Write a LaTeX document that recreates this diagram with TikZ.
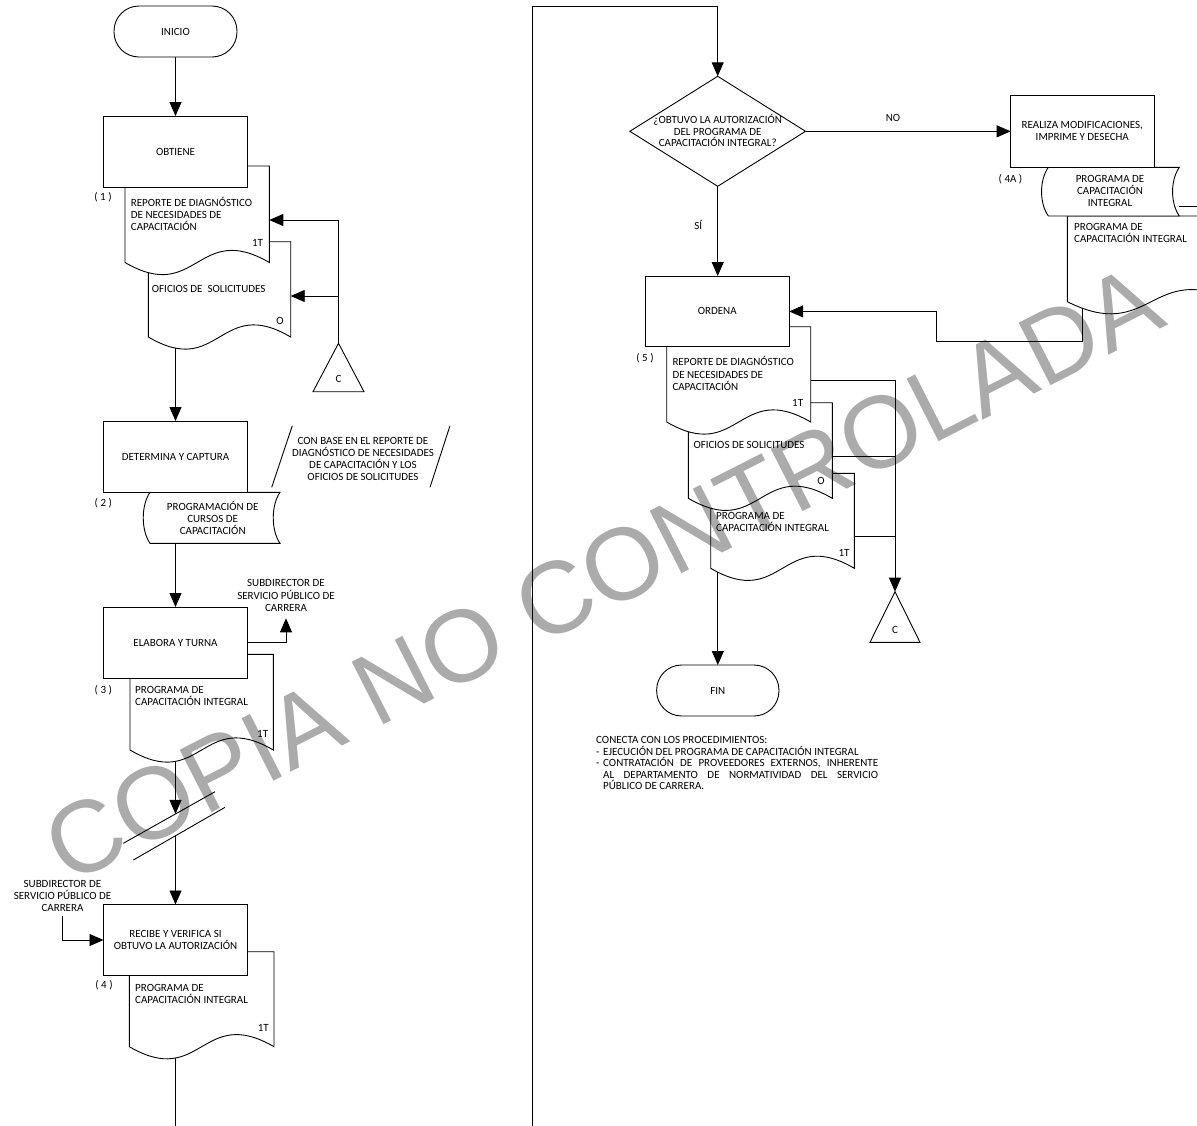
\documentclass[tikz,border=0pt]{standalone}
\usepackage{fontspec}
\setmainfont{Carlito}
\newfontfamily\stampfont{Liberation Sans}
\usetikzlibrary{arrows.meta,shapes.geometric,calc}
\pgfdeclarelayer{paper}
\pgfdeclarelayer{links}
\pgfdeclarelayer{stamp}
\pgfsetlayers{paper,links,main,stamp}

\tikzset{
  frame/.style={rectangle, draw=none, inner sep=0pt, outer sep=0pt},
  outline/.style={draw=black, fill=white, line width=0.9pt},
  procbox/.style={frame, outline, minimum width=144pt, minimum height=71pt,
    font=\fontsize{11}{11.8}\selectfont, align=center},
  terminal/.style={frame, outline, rounded corners=25pt, minimum width=123pt,
    minimum height=51pt, font=\fontsize{11}{12.4}\selectfont},
  link/.style={draw=black, line width=0.9pt},
  arr/.style={link, -{Triangle[length=14pt,width=12pt]}},
  lbl/.style={font=\fontsize{11}{12.2}\selectfont, inner sep=0pt, align=center},
  doclbl/.style={lbl, align=left, anchor=west},
}

% document symbol: flat top, wavy bottom (name, left, top, right, bottom)
\newcommand\DocShape[5]{%
  \node[frame, minimum width={(#4)-(#2)}, minimum height={(#5)-(#3)}]
    (#1) at ({((#2)+(#4))/2},{((#3)+(#5))/2}) {};
  \path[outline] (#1.north west) -- (#1.north east) -- (#1.south east)
    .. controls ([yshift=42pt]#1.south) and ([yshift=-42pt]#1.south) .. (#1.south west) -- cycle;}
% stored-data symbol: curved left and right sides
\newcommand\StoredShape[5]{%
  \node[frame, minimum width={(#4)-(#2)}, minimum height={(#5)-(#3)}]
    (#1) at ({((#2)+(#4))/2},{((#3)+(#5))/2}) {};
  \path[outline] (#1.north west) -- (#1.north east)
    .. controls +(-9,13) and +(-9,-13) .. (#1.south east) -- (#1.south west)
    .. controls +(-9,-13) and +(-9,13) .. (#1.north west) -- cycle;}
% off-page connector triangle (name, centre x, top, bottom, half width)
\newcommand\ConnTri[5]{%
  \node[frame, minimum width={2*(#5)}, minimum height={(#4)-(#3)}]
    (#1) at (#2,{((#3)+(#4))/2}) {};
  \path[outline] (#1.north) -- (#1.south east) -- (#1.south west) -- cycle;}

\begin{document}
\begin{tikzpicture}[x=1pt,y=-1pt]
\path[use as bounding box] (0,0) rectangle (1197,1125);
\clip (0,0) rectangle (1197,1125);
\begin{pgfonlayer}{paper}
  \fill[white] (0,0) rectangle (1197,1125);
\end{pgfonlayer}

% ---------------- left column ----------------
\node[terminal] (inicio) at (175.5,31.5) {INICIO};
\DocShape{doc2}{148.3}{241.7}{290.7}{337}
\DocShape{doc1}{125}{166}{269.3}{262.5}
\node[procbox] (obtiene) at (175.5,151.5) {OBTIENE};
\ConnTri{c1}{338.5}{343.3}{391.7}{25.5}

\StoredShape{sd2}{150}{492.3}{280}{543.3}
\node[procbox] (determina) at (175.5,456.5) {DETERMINA Y CAPTURA};

\DocShape{doc3}{130}{654.3}{273.3}{750}
\node[procbox] (elabora) at (175.5,642.5) {ELABORA Y TURNA};

\coordinate (s1a) at (123.3,843.3);
\coordinate (s1b) at (215,791.7);
\coordinate (s2a) at (133.3,860);
\coordinate (s2b) at (225,807.3);
\coordinate (brk1) at (175.5,813.9);
\coordinate (brk2) at (175.5,835.8);
\draw[link] (s1a) -- (s1b);
\draw[link] (s2a) -- (s2b);

\DocShape{doc4}{129.3}{951.7}{274}{1046.7}
\node[procbox] (recibe) at (175.5,940) {RECIBE Y VERIFICA SI\\OBTUVO LA AUTORIZACIÓN};

% ---------------- right column ----------------
\node[frame, outline, diamond, minimum width=175.7pt, minimum height=110pt] (dmd) at (717.7,131.3) {};
\DocShape{doc4a}{1067.3}{216}{1235}{301.7}
\StoredShape{sd4a}{1048.3}{167.3}{1179.3}{216}
\node[procbox, minimum width=143.3pt, minimum height=72.3pt] (realiza) at (1082.3,131.2)
  {REALIZA MODIFICACIONES,\\IMPRIME Y DESECHA};

\DocShape{doc5c}{710.7}{473.3}{854.3}{568.3}
\DocShape{doc5b}{688.3}{402.7}{832.3}{498.3}
\DocShape{doc5a}{666.7}{326.7}{810.7}{422}
\node[procbox, minimum height=70.7pt] (ordena) at (717.2,311.4) {ORDENA};
\ConnTri{c2}{895}{591.7}{642.3}{25}
\node[terminal, minimum width=122.3pt] (fin) at (717.8,690.5) {FIN};

% ---------------- connectors ----------------
\coordinate (pgend) at (175.5,1130);
\coordinate (pgstart) at (532.7,1130);
\coordinate (pgtop) at (532.7,6.7);
\coordinate (sub1tip) at (286,618.3);
\begin{pgfonlayer}{links}
  \draw[arr] (inicio.south) -- (obtiene.north);
  \draw[arr] (c1.north) |- ([yshift=-5.75pt]doc1.east);
  \draw[arr] ([yshift=-6.65pt]doc2.east -| c1.north) -- ([yshift=-6.65pt]doc2.east);
  \draw[arr] (doc2.south -| obtiene.south) -- (determina.north);
  \draw[arr] (sd2.south -| elabora.north) -- (elabora.north);
  \draw[arr] (elabora.east) -| (sub1tip);
  \draw[arr] (doc3.south -| elabora.south) -- (brk1);
  \draw[arr] (brk2) -- (recibe.north);
  \draw[link] (doc4.south -| recibe.south) -- (pgend);

  \draw[arr] (pgstart) -- (pgtop) -| (dmd.north);
  \draw[arr] (dmd.east) -- (realiza.west |- dmd.east);
  \draw[arr] (dmd.south) -- (ordena.north -| dmd.south);
  \draw[link] ([yshift=-14.35pt]sd4a.east) -- ++(40,0);
  \draw[arr] ([xshift=15pt]doc4a.south west) |- (936,341) |- (ordena.east);
  \draw[arr] ([yshift=-5.65pt]doc5a.east) -| (c2.north);
  \draw[link] ([yshift=-5.5pt]doc5b.east) -- ([yshift=-5.5pt]doc5b.east -| c2.north);
  \draw[link] ([yshift=-15.2pt]doc5c.east) -- ([yshift=-15.2pt]doc5c.east -| c2.north);
  \draw[arr] (doc5c.south -| fin.north) -- (fin.north);
\end{pgfonlayer}

% ---------------- texts ----------------
\node[lbl] (n1) at (103,197.3) {( 1 )};
\node[doclbl] (t1) at (130.7,213.8) {REPORTE DE DIAGNÓSTICO\\DE NECESIDADES DE\\CAPACITACIÓN};
\node[lbl] (k1) at (257.5,243) {1T};
\node[doclbl] (t2) at (151.7,288.7) {OFICIOS DE\ \ SOLICITUDES};
\node[lbl] (k2) at (280,321) {O};
\node[lbl] (cl1) at (338.5,378.5) {C};

\node[lbl] (n2) at (103.3,503.3) {( 2 )};
\node[lbl] (t3) at (212.7,518) {PROGRAMACIÓN DE\\CURSOS DE\\CAPACITACIÓN};
\node[lbl, font=\fontsize{11}{12.1}\selectfont] (memo) at (363,459) {CON BASE EN EL REPORTE DE\\DIAGNÓSTICO DE NECESIDADES\\DE CAPACITACIÓN Y LOS\\OFICIOS DE SOLICITUDES};
\coordinate (m1a) at (271.7,487.3);
\coordinate (m1b) at (292.3,425.7);
\coordinate (m2a) at (430,487.3);
\coordinate (m2b) at (450,425.7);
\draw[link] (m1a) -- (m1b);
\draw[link] (m2a) -- (m2b);

\node[lbl] (sub1) at (286,595.5) {SUBDIRECTOR DE\\SERVICIO PÚBLICO DE\\CARRERA};
\node[lbl] (n3) at (103.3,690) {( 3 )};
\node[doclbl] (t4) at (135,695.8) {PROGRAMA DE\\CAPACITACIÓN INTEGRAL};
\node[lbl] (k3) at (262.7,734) {1T};

\node[lbl] (sub2) at (62.5,896) {SUBDIRECTOR DE\\SERVICIO PÚBLICO DE\\CARRERA};
\draw[arr] ([yshift=-4pt]sub2.south) |- (recibe.west);
\node[lbl] (n4) at (104,985.7) {( 4 )};
\node[doclbl] (t5) at (135,994.2) {PROGRAMA DE\\CAPACITACIÓN INTEGRAL};
\node[lbl] (k4) at (263.3,1028.3) {1T};

\node[lbl, font=\fontsize{11}{11.8}\selectfont] (qtext) at (717.7,130.5) {¿OBTUVO LA AUTORIZACIÓN\\DEL PROGRAMA DE\\CAPACITACIÓN INTEGRAL?};
\node[lbl] (no) at (893,118) {NO};
\node[lbl] (si) at (698.3,225.3) {SÍ};
\node[lbl] (n4a) at (1010.5,179) {( 4A )};
\node[lbl] (t6) at (1110,191) {PROGRAMA DE\\CAPACITACIÓN\\INTEGRAL};
\node[doclbl] (t7) at (1074,233.3) {PROGRAMA DE\\CAPACITACIÓN INTEGRAL};

\node[lbl] (n5) at (645,358.3) {( 5 )};
\node[doclbl] (t8) at (672.3,373.6) {REPORTE DE DIAGNÓSTICO\\DE NECESIDADES DE\\CAPACITACIÓN};
\node[lbl] (k5) at (797.7,403.3) {1T};
\node[doclbl] (t9) at (693.3,445) {OFICIOS DE SOLICITUDES};
\node[lbl] (k6) at (821,481) {O};
\node[doclbl] (t10) at (716,521.6) {PROGRAMA DE\\CAPACITACIÓN INTEGRAL};
\node[lbl] (k7) at (844,552.7) {1T};
\node[lbl] (cl2) at (895,630) {C};

\node[anchor=north west, inner sep=0pt, text width=282pt, align=justify,
      font=\fontsize{11}{11.6}\selectfont] (note) at (596,736.2) {%
  \noindent CONECTA CON LOS PROCEDIMIENTOS:\par
  \noindent\hangindent=7pt\hangafter=1\makebox[7pt][l]{-}EJECUCIÓN DEL PROGRAMA DE CAPACITACIÓN INTEGRAL\par
  \noindent\hangindent=7pt\hangafter=1\makebox[7pt][l]{-}CONTRATACIÓN DE PROVEEDORES EXTERNOS, INHERENTE\linebreak
  AL DEPARTAMENTO DE NORMATIVIDAD DEL SERVICIO\linebreak
  PÚBLICO DE CARRERA.\par};

% ---------------- watermark ----------------
\begin{pgfonlayer}{stamp}
  \node[inner sep=0pt, rotate=27, text=black, text opacity=0.33,
        font=\stampfont\fontsize{102}{102}\selectfont] (mark) at (603,574) {COPIA NO CONTROLADA};
\end{pgfonlayer}
\end{tikzpicture}
\end{document}
